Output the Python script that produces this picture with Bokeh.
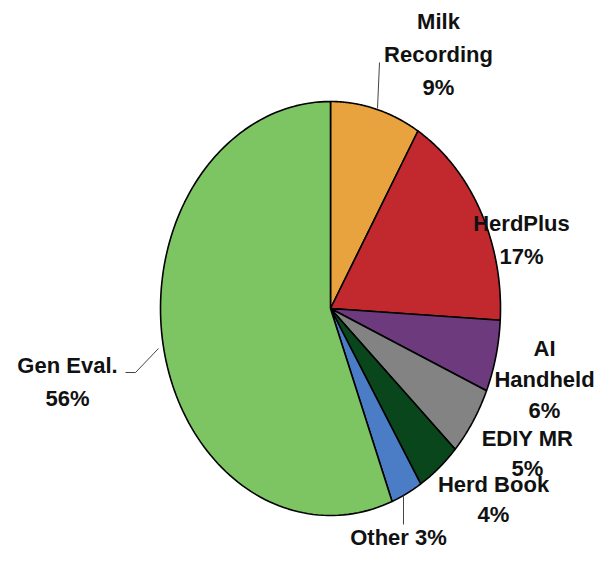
import numpy as np
from bokeh.plotting import figure
from bokeh.models import Range1d, ColumnDataSource
from bokeh.core.properties import value
from bokeh.embed import file_html
from bokeh.resources import INLINE

categories = ["Milk Recording", "HerdPlus", "AI Handheld", "EDIY MR", "Herd Book", "Other", "Gen Eval."]
shares = [8.6, 17.3, 5.6, 5.4, 4.2, 3.0, 55.9]
colors = ["#E8A23E", "#C1292F", "#6C3A7D", "#838383", "#0A461C", "#4B7DC6", "#7DC563"]

# label lines per category (text from rounded shares)
pct = [f"{round(s):d}%" for s in shares]
label_lines = [
    ["Milk", "Recording", pct[0]],
    ["HerdPlus", pct[1]],
    ["AI", "Handheld", pct[2]],
    ["EDIY MR", pct[3]],
    ["Herd Book", pct[4]],
    ["Other " + pct[5]],
    ["Gen Eval.", pct[6]],
]
# layout (screen pixels)
label_pos = [(438, 21), (521, 223), (544, 348), (527, 438), (493, 484), (398, 537), (67, 365)]
line_gap = [33, 33, 31, 30, 30, 0, 33]

cx, cy, rx, ry = 330, 308, 170, 207

p = figure(width=596, height=550, output_backend="svg", toolbar_location=None,
           x_range=Range1d(0, 596), y_range=Range1d(550, 0), min_border=0)
p.axis.visible = False
p.grid.visible = False
p.outline_line_color = None

total = sum(shares)
cum = np.concatenate([[0], np.cumsum(shares)]) / total
xs, ys = [], []
for i in range(len(shares)):
    a = np.linspace(cum[i], cum[i + 1], 120) * 2 * np.pi
    px = cx + rx * np.sin(a)
    py = cy - ry * np.cos(a)
    xs.append(np.concatenate([[cx], px, [cx]]))
    ys.append(np.concatenate([[cy], py, [cy]]))

src = ColumnDataSource(dict(xs=xs, ys=ys, color=colors, cat=categories))
p.patches("xs", "ys", fill_color="color", line_color="black", line_width=1.6, source=src)

# leader lines
p.line([377, 379], [108, 62], line_color="#444444", line_width=1)
p.line([158, 135, 125], [348, 372, 372], line_color="#444444", line_width=1)
p.line([403, 403], [495, 524], line_color="#444444", line_width=1)

tx, ty, tt = [], [], []
for lines, (x, y), g in zip(label_lines, label_pos, line_gap):
    for k, t in enumerate(lines):
        tx.append(x)
        ty.append(y + k * g)
        tt.append(t)
p.text(tx, ty, text=tt, text_align="center", text_baseline="middle",
       text_font=value("Liberation Sans"), text_font_style="bold",
       text_font_size="22px", text_color="#111111")

open("out.html", "w").write(file_html(p, INLINE))
